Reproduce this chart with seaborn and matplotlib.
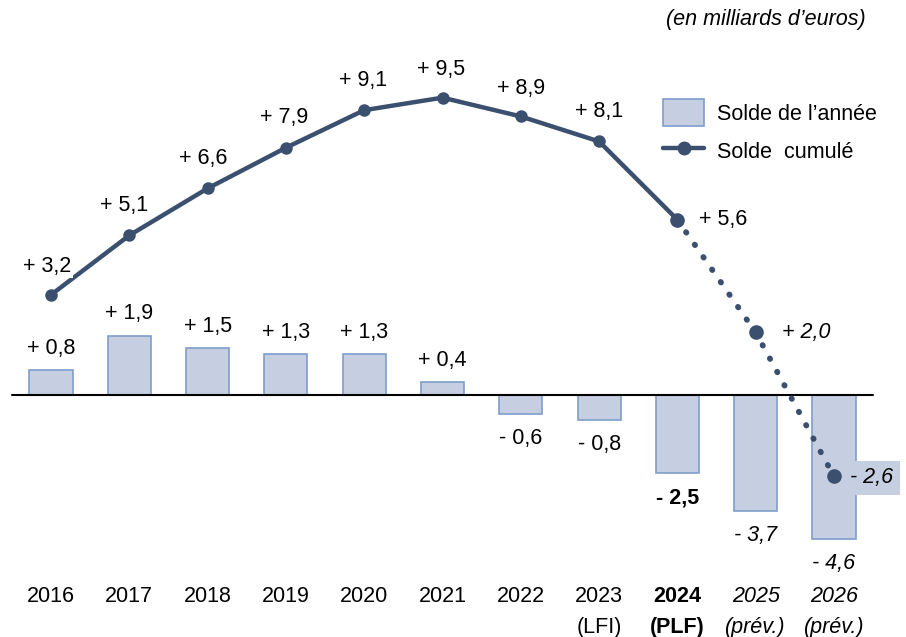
import matplotlib
matplotlib.use("Agg")
import matplotlib.pyplot as plt
import seaborn as sns
import pandas as pd
from matplotlib.patches import Patch
from matplotlib.lines import Line2D

# données (en milliards d'euros)
annees = ["2016", "2017", "2018", "2019", "2020", "2021", "2022", "2023", "2024", "2025", "2026"]
sous_titres = ["", "", "", "", "", "", "", "(LFI)", "(PLF)", "(prév.)", "(prév.)"]
solde_annee = [0.8, 1.9, 1.5, 1.3, 1.3, 0.4, -0.6, -0.8, -2.5, -3.7, -4.6]
solde_cumule = [3.2, 5.1, 6.6, 7.9, 9.1, 9.5, 8.9, 8.1, 5.6, 2.0, -2.6]

BARRE = "#C5CFE1"
BORD = "#7F9DC9"
MARINE = "#3B4F6F"

sns.set_style("white")
plt.rcParams['font.family'] = ['Liberation Sans', 'DejaVu Sans']
plt.rcParams['text.color'] = 'black'


def fmt(v):
    signe = "+" if v >= 0 else "-"
    return f"{signe} {abs(v):.1f}".replace(".", ",")


def style_annee(i):
    # 2024 en gras, prévisions en italique
    if i == 8:
        return {"fontweight": "bold"}
    if i >= 9:
        return {"fontstyle": "italic"}
    return {}


df = pd.DataFrame({"annee": annees, "solde": solde_annee, "cumul": solde_cumule,
                   "pos": range(len(annees))})

fig = plt.figure(figsize=(9.06, 6.37), dpi=100)
ax = fig.add_axes([0, 0, 1, 1])

sns.barplot(data=df, x="annee", y="solde", ax=ax, color=BARRE, width=0.55,
            edgecolor=BORD, linewidth=1.2, saturation=1)

# ligne solide jusqu'en 2024, pointillés ensuite
reel = df[df["pos"] <= 8]
prev = df[df["pos"] >= 8]
sns.lineplot(data=reel, x="pos", y="cumul", ax=ax, color=MARINE, linewidth=3.2,
             marker="o", markersize=9, markeredgewidth=0, solid_capstyle="round", zorder=4)
ax.plot(prev["pos"], prev["cumul"], color=MARINE, linewidth=4.2,
        linestyle=(0, (0.1, 2.5)), dash_capstyle="round", zorder=4)
ax.plot(prev["pos"], prev["cumul"], "o", color=MARINE, markersize=9.5, zorder=5)

ax.axhline(0, xmin=12 / 906, xmax=873 / 906, color="black", linewidth=1.5, zorder=3)

px = 78.3
ax.set_xlim(-51 / px, (906 - 51) / px)
ax.set_ylim(-(637 - 395) / 31.3, 395 / 31.3)
ax.axis("off")

fs = 15.5
# étiquettes du solde cumulé (dx, dy en unités de données)
off_cumul = [(-0.05, 0.9), (-0.07, 0.95), (-0.05, 0.95), (-0.02, 0.95), (-0.02, 0.95),
             (-0.02, 0.9), (0.0, 0.9), (0.0, 0.95), (0.27, 0.0), (0.33, 0.0), (0.2, -0.05)]
for i, v in enumerate(solde_cumule):
    dx, dy = off_cumul[i]
    kw = {}
    ha = "center"
    if i >= 8:
        ha = "left"
    if i >= 9:
        kw["fontstyle"] = "italic"
    if i == 0:
        kw["bbox"] = dict(facecolor="white", edgecolor="none", pad=1)
    if i == 10:
        kw["bbox"] = dict(facecolor=BARRE, edgecolor="none", pad=5)
    ax.text(i + dx, v + dy, fmt(v), ha=ha, va="center", fontsize=fs, zorder=6, **kw)

# étiquettes du solde de l'année
for i, v in enumerate(solde_annee):
    y = v + 0.7 if v >= 0 else v - 0.78
    kw = style_annee(i)
    ax.text(i, y, fmt(v), ha="center", va="center", fontsize=fs, **kw)

# axe des années
for i, (a, s) in enumerate(zip(annees, sous_titres)):
    kw = style_annee(i)
    ax.text(i, -6.45, a, ha="center", va="center", fontsize=fs, **kw)
    if s:
        ax.text(i, -7.42, s, ha="center", va="center", fontsize=fs, **kw)

fig.text(866 / 906, 1 - 20 / 637, "(en milliards d\u2019euros)", ha="right", va="center",
         fontsize=fs, fontstyle="italic")

handles = [Patch(facecolor=BARRE, edgecolor=BORD, linewidth=1.2),
           Line2D([0], [0], color=MARINE, linewidth=3.2, marker="o", markersize=9)]
ax.legend(handles, ["Solde de l\u2019année", "Solde  cumulé"], loc="upper left",
          bbox_to_anchor=(644 / 906, 1 - 80 / 637), frameon=False, fontsize=fs,
          handlelength=1.9, handleheight=1.5, labelspacing=0.55, handletextpad=0.6)

fig.savefig("out.png", dpi=100)
